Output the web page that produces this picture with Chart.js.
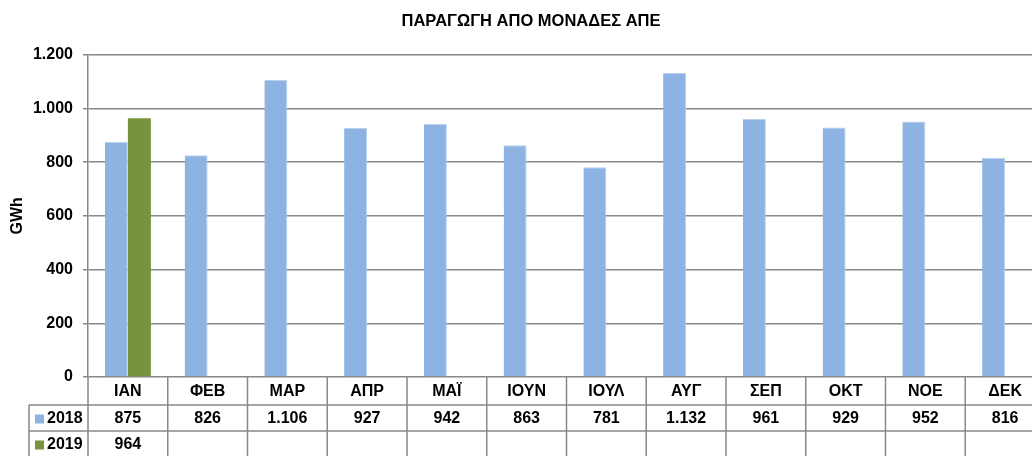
<!DOCTYPE html>
<html>
<head>
<meta charset="utf-8">
<script src="https://cdn.jsdelivr.net/npm/chart.js@4/dist/chart.umd.min.js"></script>
<style>
html,body{margin:0;padding:0;background:#fff;overflow:hidden;width:1032px;height:456px;}
#wrap{position:absolute;left:0;top:0;width:1062px;height:456px;}
canvas{display:block;}
</style>
</head>
<body>
<div id="wrap"><canvas id="c" width="1062" height="456"></canvas></div>
<script>
const categories = ["ΙΑΝ","ΦΕΒ","ΜΑΡ","ΑΠΡ","ΜΑΪ","ΙΟΥΝ","ΙΟΥΛ","ΑΥΓ","ΣΕΠ","ΟΚΤ","ΝΟΕ","ΔΕΚ"];
const seriesNames = ["2018","2019"];
const values2018 = [875,826,1106,927,942,863,781,1132,961,929,952,816];
const values2019 = [964,null,null,null,null,null,null,null,null,null,null,null];
const yTicks = [0,200,400,600,800,1000,1200];
const titleText = "ΠΑΡΑΓΩΓΗ ΑΠΟ ΜΟΝΑΔΕΣ ΑΠΕ";
const yTitle = "GWh";

const colors = ["#8DB3E2","#77933C"];
const FONT = "'Liberation Sans', Arial, sans-serif";
const gridColor = "#888888";

function fmt(v){
  if (v === null || v === undefined) return "";
  return String(v).replace(/\B(?=(\d{3})+(?!\d))/g, ".");
}

const titleShift = {
  id: 'titleShift',
  afterLayout(chart){
    const tb = chart.titleBlock;
    if (tb) { tb.right = chart.width; tb.width = chart.width - tb.left; }
  }
};

const tablePlugin = {
  id: 'dataTable',
  afterDraw(chart){
    const ctx = chart.ctx;
    const x = chart.scales.x;
    const area = chart.chartArea;
    const n = categories.length;
    const cw = (area.right - area.left) / n;
    const top = area.bottom;
    const rowH = [28, 26, 26];
    const r1 = top + rowH[0];
    const r2 = r1 + rowH[1];
    const r3 = 456;
    const leftCol = 29;
    ctx.save();
    ctx.strokeStyle = gridColor;
    ctx.lineWidth = 1.5;
    ctx.beginPath();
    ctx.moveTo(leftCol, r1); ctx.lineTo(area.right, r1);
    ctx.moveTo(leftCol, r2); ctx.lineTo(area.right, r2);
    for (let i = 0; i <= n; i++) {
      const bx = area.left + i * cw;
      ctx.moveTo(bx, top); ctx.lineTo(bx, r3);
    }
    ctx.moveTo(leftCol, r1); ctx.lineTo(leftCol, r3);
    ctx.stroke();

    ctx.fillStyle = "#000";
    ctx.font = "bold 16px " + FONT;
    ctx.textAlign = "center";
    ctx.textBaseline = "middle";
    const rowsY = [top + rowH[0]/2 + 1, r1 + rowH[1]/2 + 1, r2 + rowH[2]/2 + 1];
    const data = [values2018, values2019];
    for (let i = 0; i < n; i++) {
      const cx = x.getPixelForValue(i);
      ctx.fillText(categories[i], cx, rowsY[0]);
      ctx.fillText(fmt(data[0][i]), cx, rowsY[1]);
      ctx.fillText(fmt(data[1][i]), cx, rowsY[2]);
    }
    ctx.textAlign = "left";
    for (let s = 0; s < 2; s++) {
      const cy = rowsY[s+1];
      ctx.fillStyle = colors[s];
      ctx.fillRect(35, cy - 4.5, 9, 9);
      ctx.fillStyle = "#000";
      ctx.fillText(seriesNames[s], 47, cy);
    }
    ctx.restore();
  }
};

new Chart(document.getElementById('c'), {
  type: 'bar',
  data: {
    labels: categories,
    datasets: [
      { label: seriesNames[0], data: values2018, backgroundColor: colors[0], borderColor: "#b8cfee", borderWidth: {top:1,right:1,left:0,bottom:0}, categoryPercentage: 0.577, barPercentage: 1.0 },
      { label: seriesNames[1], data: values2019, backgroundColor: colors[1], borderWidth: 0, categoryPercentage: 0.577, barPercentage: 1.0 }
    ]
  },
  options: {
    responsive: false,
    animation: false,
    devicePixelRatio: 1,
    layout: { padding: { top: 0, left: 0, right: 17, bottom: 79 } },
    plugins: {
      legend: { display: false },
      tooltip: { enabled: false },
      title: {
        display: true,
        text: titleText,
        color: "#000",
        font: { family: FONT, size: 16.5, weight: 'bold' },
        padding: { top: 12, bottom: 23 }
      }
    },
    scales: {
      x: { display: false },
      y: {
        min: 0, max: 1200,
        afterFit(s){ s.width = 88; },
        afterBuildTicks(s){ s.ticks = yTicks.map(v => ({value: v})); },
        ticks: {
          color: "#000",
          font: { family: FONT, size: 16, weight: 'bold' },
          padding: 10,
          callback: v => fmt(v)
        },
        grid: { color: gridColor, lineWidth: 1.5, tickLength: 5, drawTicks: true },
        border: { display: true, color: gridColor, width: 1.5 },
        title: {
          display: true, text: yTitle, color: "#000",
          font: { family: FONT, size: 16, weight: 'bold' },
          padding: { top: 8, bottom: 4 }
        }
      }
    }
  },
  plugins: [titleShift, tablePlugin]
});
</script>
</body>
</html>
